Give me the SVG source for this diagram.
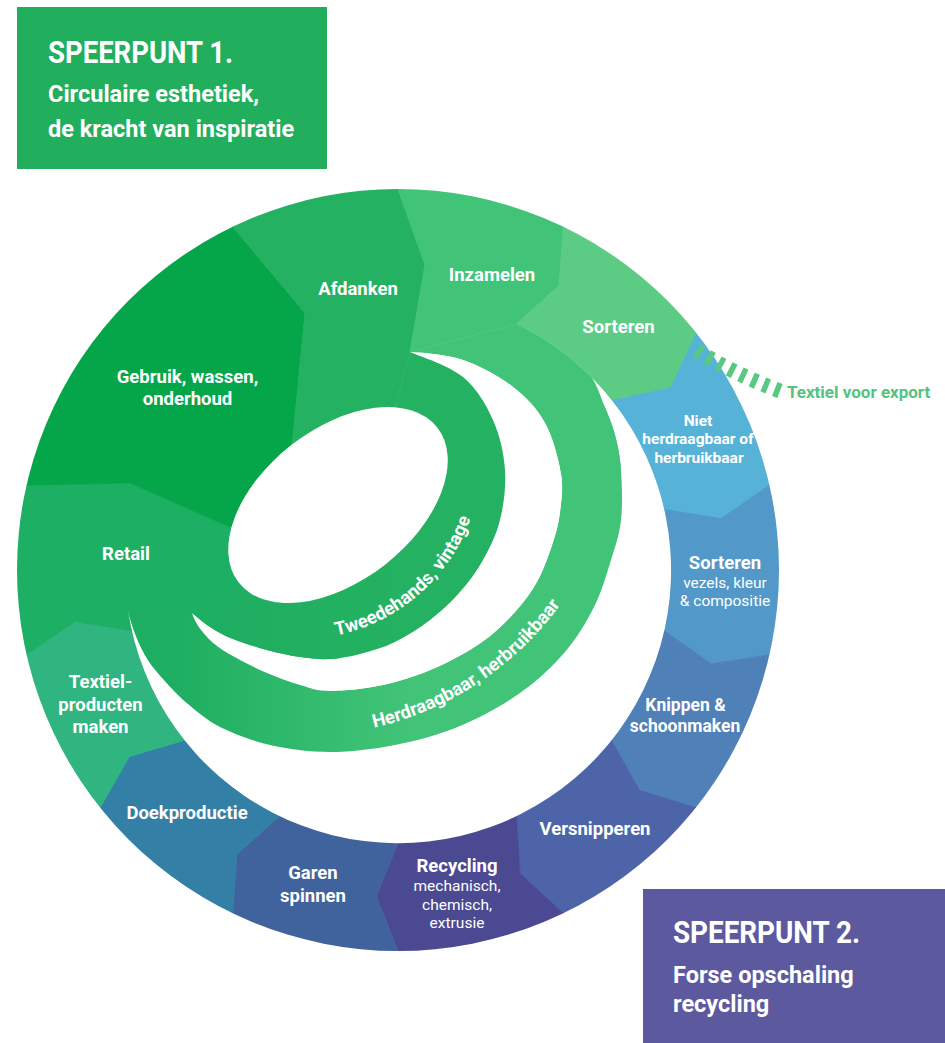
<svg xmlns="http://www.w3.org/2000/svg" width="945" height="1043" viewBox="0 0 945 1043">
<defs>
<clipPath id="disk"><circle cx="398" cy="570" r="381"/></clipPath>
<linearGradient id="gHerd" gradientUnits="userSpaceOnUse" x1="175" y1="0" x2="410" y2="0"><stop offset="0" stop-color="#1eae61"/><stop offset="1" stop-color="#42c478"/></linearGradient>
<linearGradient id="gTwee" gradientUnits="userSpaceOnUse" x1="200" y1="0" x2="395" y2="0"><stop offset="0" stop-color="#1eae61"/><stop offset="1" stop-color="#24b161"/></linearGradient>
<path id="arcTwee" d="M287.4,638.6 A181,181 0 0,0 480.6,470.6"/>
<path id="arcHerd" d="M347.2,732.7 A317.8,317.8 0 0,0 575.4,581.7"/>
</defs>
<style>
.seg{fill:currentColor;stroke:currentColor;stroke-width:.8;stroke-linejoin:round}
text{font-family:Roboto,'Liberation Sans',sans-serif;fill:#fff}
.lb{font-size:18.5px;font-weight:700;text-anchor:middle}
.lk{font-size:17.5px;font-weight:700;text-anchor:middle}
.sm{font-size:15.5px;font-weight:700;text-anchor:middle}
.rg{font-size:15.5px;font-weight:400;text-anchor:middle}
.hd{font-size:32px;font-weight:700}
.sub{font-size:23.5px;font-weight:700}
.wh{fill:#fff}
</style>

<g id="speerpunt-1">
<rect x="17" y="7" width="310" height="162" fill="#21af5d"/>
<text class="hd" x="48" y="63" textLength="185" lengthAdjust="spacingAndGlyphs">SPEERPUNT 1.</text>
<text class="sub" x="48" y="102">Circulaire esthetiek,</text>
<text class="sub" x="48" y="137">de kracht van inspiratie</text>
</g>

<g id="niet-herdraagbaar">
<polygon class="seg" color="#57b2d8" clip-path="url(#disk)" points="734.2,301.9 695.9,332.4 670,387 611.4,399.8 593.5,414.1 641.7,514.4 664.2,509.3 720.9,518.5 769.4,485.2 817.2,474.3"/>
<text class="sm" x="698" y="426">Niet</text>
<text class="sm" x="698" y="444">herdraagbaar of</text>
<text class="sm" x="699" y="463">herbruikbaar</text>
</g>
<g id="sorteren-vezels">
<polygon class="seg" color="#5299c9" clip-path="url(#disk)" points="817.2,474.3 769.4,485.2 720.9,518.5 664.2,509.3 641.7,514.4 641.7,625.6 664.2,630.7 711.3,663.7 769.4,654.8 817.2,665.7"/>
<text class="lb" x="725" y="569">Sorteren</text>
<text class="rg" x="725" y="588">vezels, kleur</text>
<text class="rg" x="725" y="606">&amp; compositie</text>
</g>
<g id="knippen">
<polygon class="seg" color="#5080b8" clip-path="url(#disk)" points="817.2,665.7 769.4,654.8 711.3,663.7 664.2,630.7 641.7,625.6 593.5,725.9 611.4,740.2 639.6,790.3 695.9,807.6 734.2,838.1"/>
<text class="lk" x="685.5" y="711">Knippen &amp;</text>
<text class="lk" x="685" y="732">schoonmaken</text>
</g>
<g id="versnipperen">
<polygon class="seg" color="#4e64a9" clip-path="url(#disk)" points="734.2,838.1 695.9,807.6 639.6,790.3 611.4,740.2 593.5,725.9 506.5,795.2 516.5,816 520,873.4 563.3,913.3 584.6,957.4"/>
<text class="lb" x="595" y="835">Versnipperen</text>
</g>
<g id="recycling">
<polygon class="seg" color="#4c4993" clip-path="url(#disk)" points="584.6,957.4 563.3,913.3 520,873.4 516.5,816 506.5,795.2 398,820 398,843 376.3,896.3 398,951 398,1000"/>
<text class="lb" x="457" y="872">Recycling</text>
<text class="rg" x="457" y="891">mechanisch,</text>
<text class="rg" x="457" y="910">chemisch,</text>
<text class="rg" x="457" y="928">extrusie</text>
</g>
<g id="garen-spinnen">
<polygon class="seg" color="#40639d" clip-path="url(#disk)" points="398,1000 398,951 376.3,896.3 398,843 398,820 289.5,795.2 279.5,816 236.9,854.6 232.7,913.3 211.4,957.4"/>
<text class="lb" x="313" y="879">Garen</text>
<text class="lb" x="313" y="902">spinnen</text>
</g>
<g id="doekproductie">
<polygon class="seg" color="#337fa6" clip-path="url(#disk)" points="211.4,957.4 232.7,913.3 236.9,854.6 279.5,816 289.5,795.2 202.5,725.9 184.6,740.2 129.4,756.5 100.1,807.6 61.8,838.1"/>
<text class="lb" x="187" y="819">Doekproductie</text>
</g>
<g id="textielproducten">
<polygon class="seg" color="#30b580" clip-path="url(#disk)" points="61.8,838.1 100.1,807.6 129.4,756.5 184.6,740.2 202.5,725.9 154.3,625.6 131.8,630.7 75.1,621.5 26.6,654.8 -21.2,665.7"/>
<text class="lb" x="100.5" y="688">Textiel-</text>
<text class="lb" x="100.5" y="711">producten</text>
<text class="lb" x="100.5" y="733">maken</text>
</g>
<g id="retail">
<polygon class="seg" color="#1daf63" clip-path="url(#disk)" points="-21.2,665.7 26.6,654.8 75.1,621.5 131.8,630.7 200,680 340,700 340,560 230,527 130,483 26.6,485.2 -21.2,474.3"/>
<text class="lb" x="126" y="560">Retail</text>
</g>
<g id="gebruik">
<polygon class="seg" color="#05a64a" clip-path="url(#disk)" points="-21.2,474.3 26.6,485.2 130,483 230,527 300,515 288,470 293,437 305,313 232.7,226.7 211.4,182.6 30.6,277"/>
<text class="lb" x="187.5" y="383">Gebruik, wassen,</text>
<text class="lb" x="187.5" y="405">onderhoud</text>
</g>
<g id="afdanken">
<polygon class="seg" color="#24b161" clip-path="url(#disk)" points="211.4,182.6 232.7,226.7 305,313 293,437 288,470 340,480 385,445 410,352 425,265 398,189 398,140"/>
<text class="lb" x="358" y="295">Afdanken</text>
</g>
<g id="inzamelen">
<polygon class="seg" color="#42c478" clip-path="url(#disk)" points="398,140 398,189 425,265 410,352 516.5,324 559.1,285.4 563.3,226.7 584.6,182.6"/>
<text class="lb" x="492" y="281">Inzamelen</text>
</g>
<g id="sorteren">
<path class="seg" color="#5ccb84" clip-path="url(#disk)" d="M584.6,182.6 L563.3,226.7 L559.1,285.4 L516.5,324 A273,273 0 0,1 611.4,399.8 L670,387 L695.9,332.4 L734.2,301.9 Z"/>
<text class="lb" x="618.5" y="333">Sorteren</text>
</g>

<g id="connectors">
<path id="gap-outer" class="wh" d="M591,377 A273,273 0 1,1 128,610 C130,619 132.7,627.7 136,636 C139.3,644.3 143.2,652.5 148,660 C152.8,667.5 158.5,673.8 165,681 C171.5,688.2 177.8,695.3 187,703 C196.2,710.7 206.2,720 220,727 C233.8,734 251.7,740.8 270,745 C288.3,749.2 309.2,752 330,752 C350.8,752 373.3,749.3 395,745 C416.7,740.7 439.2,734.7 460,726 C480.8,717.3 502.5,705.3 520,693 C537.5,680.7 552.7,666.3 565,652 C577.3,637.7 586.3,622.3 594,607 C601.7,591.7 606.5,574.5 611,560 C615.5,545.5 619.3,535 621,520 C622.7,505 622,484.2 621,470 C620,455.8 617.8,445.8 615,435 C612.2,424.2 608,414.7 604,405 C600,395.3 597,384 591,377 Z"/>
<path id="flow-herdraagbaar" fill="url(#gHerd)" d="M591,377 C597,384 600,395.3 604,405 C608,414.7 612.2,424.2 615,435 C617.8,445.8 620,455.8 621,470 C622,484.2 622.7,505 621,520 C619.3,535 615.5,545.5 611,560 C606.5,574.5 601.7,591.7 594,607 C586.3,622.3 577.3,637.7 565,652 C552.7,666.3 537.5,680.7 520,693 C502.5,705.3 480.8,717.3 460,726 C439.2,734.7 416.7,740.7 395,745 C373.3,749.3 350.8,752 330,752 C309.2,752 288.3,749.2 270,745 C251.7,740.8 233.8,734 220,727 C206.2,720 196.2,710.7 187,703 C177.8,695.3 171.5,688.2 165,681 C158.5,673.8 152.8,667.5 148,660 C143.2,652.5 139.3,644.3 136,636 C132.7,627.7 130,619 128,610 L192,613 C193.5,618 196.8,624.5 201,630 C205.2,635.5 210.5,641 217,646 C223.5,651 231.7,655.5 240,660 C248.3,664.5 257,668.8 267,673 C277,677.2 289.5,682 300,685 C310.5,688 316.2,691 330,691 C343.8,691 365.5,688.8 383,685 C400.5,681.2 418.5,675.2 435,668 C451.5,660.8 468.7,651.3 482,642 C495.3,632.7 505.7,622.3 515,612 C524.3,601.7 531.7,591.7 538,580 C544.3,568.3 549.3,553.3 553,542 C556.7,530.7 558.7,523.3 560,512 C561.3,500.7 563.5,488.8 561,474 C558.5,459.2 553,437.5 545,423 C537,408.5 526.7,397.5 513,387 C499.3,376.5 480.2,365.8 463,360 C445.8,354.2 425,353 410,352 L516.5,324 A273,273 0 0,1 591,377 Z"/>
<path id="gap-inner" class="wh" d="M410,352 C425,353 445.8,354.2 463,360 C480.2,365.8 499.3,376.5 513,387 C526.7,397.5 537,408.5 545,423 C553,437.5 558.5,459.2 561,474 C563.5,488.8 561.3,500.7 560,512 C558.7,523.3 556.7,530.7 553,542 C549.3,553.3 544.3,568.3 538,580 C531.7,591.7 524.3,601.7 515,612 C505.7,622.3 495.3,632.7 482,642 C468.7,651.3 451.5,660.8 435,668 C418.5,675.2 400.5,681.2 383,685 C365.5,688.8 343.8,691 330,691 C316.2,691 310.5,688 300,685 C289.5,682 277,677.2 267,673 C257,668.8 248.3,664.5 240,660 C231.7,655.5 223.5,651 217,646 C210.5,641 205.2,635.5 201,630 C196.8,624.5 193.5,618 192,613 C196.5,616.5 203.2,622.7 210,627 C216.8,631.3 223.5,635.2 233,639 C242.5,642.8 255.8,647 267,650 C278.2,653 289.5,655.5 300,657 C310.5,658.5 320,659.5 330,659 C340,658.5 349.2,656.8 360,654 C370.8,651.2 383.3,647.7 395,642 C406.7,636.3 419.2,628.3 430,620 C440.8,611.7 451.2,602 460,592 C468.8,582 476.3,572 483,560 C489.7,548 496.3,535 500,520 C503.7,505 506.2,486.7 505,470 C503.8,453.3 500,435.5 493,420 C486,404.5 476.8,388.3 463,377 C449.2,365.7 422,357 410,352 Z"/>
<path id="flow-tweedehands" fill="url(#gTwee)" d="M410,352 C422,357 449.2,365.7 463,377 C476.8,388.3 486,404.5 493,420 C500,435.5 503.8,453.3 505,470 C506.2,486.7 503.7,505 500,520 C496.3,535 489.7,548 483,560 C476.3,572 468.8,582 460,592 C451.2,602 440.8,611.7 430,620 C419.2,628.3 406.7,636.3 395,642 C383.3,647.7 370.8,651.2 360,654 C349.2,656.8 340,658.5 330,659 C320,659.5 310.5,658.5 300,657 C289.5,655.5 278.2,653 267,650 C255.8,647 242.5,642.8 233,639 C223.5,635.2 216.8,631.3 210,627 C203.2,622.7 196.5,616.5 192,613 L300,560 L385,445 Z"/>
<ellipse id="hole" class="wh" cx="338" cy="505" rx="126" ry="76" transform="rotate(-38 338 505)"/>
<text class="lb"><textPath href="#arcTwee" startOffset="50%">Tweedehands, vintage</textPath></text>
<text class="lb"><textPath href="#arcHerd" startOffset="50%">Herdraagbaar, herbruikbaar</textPath></text>
<g id="export">
<path d="M697,350 Q729,372 785,393" fill="none" stroke="#58c883" stroke-width="15" stroke-dasharray="5.5 7"/>
<text x="787" y="398" style="font-size:17px;font-weight:700;fill:#52c47f">Textiel voor export</text>
</g>
</g>

<g id="speerpunt-2">
<rect x="643" y="889" width="302" height="154" fill="#5d599f"/>
<text class="hd" x="673" y="943" textLength="187" lengthAdjust="spacingAndGlyphs">SPEERPUNT 2.</text>
<text class="sub" x="673" y="983">Forse opschaling</text>
<text class="sub" x="673" y="1012">recycling</text>
</g>
</svg>
